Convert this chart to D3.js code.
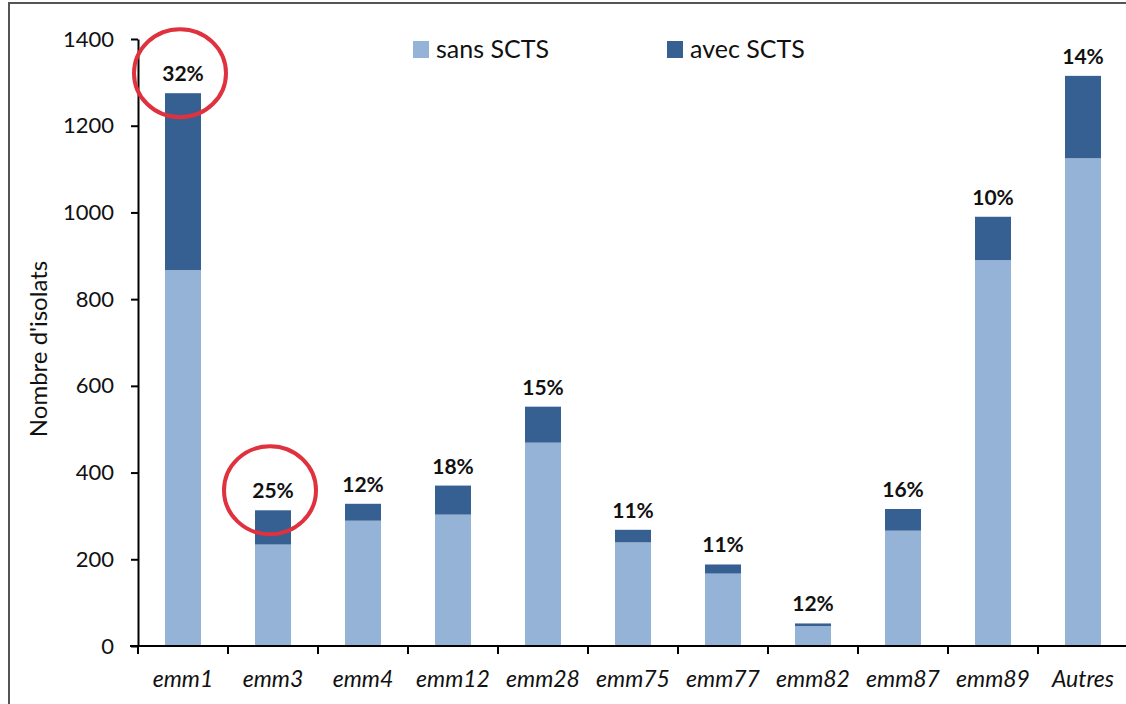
<!DOCTYPE html>
<html>
<head>
<meta charset="utf-8">
<script src="https://cdn.jsdelivr.net/npm/d3@7"></script>
<style>
  body { margin: 0; background: #fff; }
  svg { display: block; font-family: Lato, "Open Sans", sans-serif; }
</style>
</head>
<body>
<svg id="chart" width="1126" height="704"></svg>
<script>
// data
const categories = ["emm1", "emm3", "emm4", "emm12", "emm28", "emm75", "emm77", "emm82", "emm87", "emm89", "Autres"];
const sansSCTS = [867, 234, 289, 303, 469, 239, 167, 46, 266, 890, 1125];
const avecSCTS = [408, 79, 39, 67, 83, 29, 21, 6, 50, 100, 190];
const pctLabels = ["32%", "25%", "12%", "18%", "15%", "11%", "11%", "12%", "16%", "10%", "14%"];
const yTicks = [0, 200, 400, 600, 800, 1000, 1200, 1400];
const circled = ["emm1", "emm3"];

const light = "#95b3d7", dark = "#366092";

const svg = d3.select("#chart");

// outer frame (only left + top visible)
svg.append("path")
  .attr("d", "M9,704 V3 H1126")
  .attr("fill", "none")
  .attr("stroke", "#555")
  .attr("stroke-width", 2);

const x = d3.scaleBand()
  .domain(categories)
  .range([138, 1128])
  .paddingInner(0.6)
  .paddingOuter(0.3);

const y = d3.scaleLinear()
  .domain([0, 1400])
  .range([646, 39]);

const rows = categories.map((c, i) => ({ cat: c, sans: sansSCTS[i], avec: avecSCTS[i], pct: pctLabels[i] }));
const stacked = d3.stack().keys(["sans", "avec"])(rows);
const color = d3.scaleOrdinal().domain(["sans", "avec"]).range([light, dark]);

svg.append("g")
  .selectAll("g")
  .data(stacked)
  .join("g")
    .attr("fill", d => color(d.key))
  .selectAll("rect")
  .data(d => d)
  .join("rect")
    .attr("x", d => x(d.data.cat))
    .attr("y", d => y(d[1]))
    .attr("width", x.bandwidth())
    .attr("height", d => y(d[0]) - y(d[1]));

// y axis
const yAxis = svg.append("g")
  .attr("transform", "translate(138,0)")
  .call(d3.axisLeft(y).tickValues(yTicks).tickFormat(d3.format("d"))
    .tickSize(7).tickSizeOuter(0).tickPadding(17));
yAxis.select(".domain").attr("stroke", "#000").attr("stroke-width", 2);
yAxis.selectAll(".tick line").attr("stroke", "#000").attr("stroke-width", 2);
yAxis.selectAll("text").attr("font-size", 22).attr("fill", "#111").attr("font-family", "Lato, 'Open Sans', sans-serif");

// x axis: ticks on category boundaries
const xAxisG = svg.append("g").attr("transform", "translate(0,646)");
xAxisG.append("line")
  .attr("x1", 130).attr("x2", 1126)
  .attr("stroke", "#000").attr("stroke-width", 2);
const step = x.step();
xAxisG.selectAll(".bnd")
  .data(categories)
  .join("line")
    .attr("class", "bnd")
    .attr("x1", d => x(d) - x.paddingOuter() * step)
    .attr("x2", d => x(d) - x.paddingOuter() * step)
    .attr("y1", 0).attr("y2", 8)
    .attr("stroke", "#000").attr("stroke-width", 2);
xAxisG.selectAll(".lbl")
  .data(categories)
  .join("text")
    .attr("class", "lbl")
    .attr("x", d => x(d) + x.bandwidth() / 2)
    .attr("y", 41)
    .attr("text-anchor", "middle")
    .attr("font-size", 23)
    .attr("font-style", "italic")
    .attr("fill", "#111")
    .text(d => d);

// percentage labels above bars
svg.append("g")
  .selectAll("text")
  .data(rows)
  .join("text")
    .attr("x", d => x(d.cat) + x.bandwidth() / 2)
    .attr("y", d => y(d.sans + d.avec) - 12)
    .attr("text-anchor", "middle")
    .attr("font-size", 21)
    .attr("font-weight", "bold")
    .attr("fill", "#111")
    .text(d => d.pct);

// red circles around highlighted labels
svg.append("g")
  .selectAll("ellipse")
  .data(rows.filter(d => circled.includes(d.cat)))
  .join("ellipse")
    .attr("cx", d => x(d.cat) + x.bandwidth() / 2 - 3)
    .attr("cy", d => y(d.sans + d.avec) - 20)
    .attr("rx", 46)
    .attr("ry", 44)
    .attr("fill", "none")
    .attr("stroke", "#e0313e")
    .attr("stroke-width", 4);

// y axis title
svg.append("text")
  .attr("transform", "translate(47,349) rotate(-90)")
  .attr("text-anchor", "middle")
  .attr("font-size", 24)
  .attr("fill", "#111")
  .text("Nombre d'isolats");

// legend
const legend = svg.append("g");
const legItems = [{ key: "sans", label: "sans SCTS", x: 413 }, { key: "avec", label: "avec SCTS", x: 667 }];
legend.selectAll("rect")
  .data(legItems)
  .join("rect")
    .attr("x", d => d.x).attr("y", 41)
    .attr("width", 16).attr("height", 17)
    .attr("fill", d => color(d.key));
legend.selectAll("text")
  .data(legItems)
  .join("text")
    .attr("x", d => d.x + 23).attr("y", 58)
    .attr("font-size", 25)
    .attr("fill", "#111")
    .text(d => d.label);
</script>
</body>
</html>
